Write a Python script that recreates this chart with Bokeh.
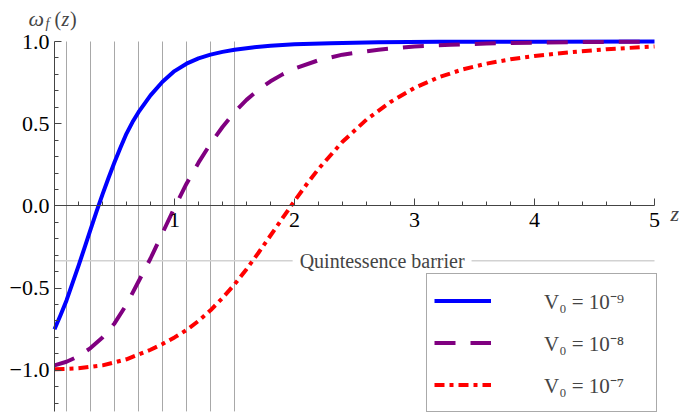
from bokeh.plotting import figure
from bokeh.models import (Range1d, FixedTicker, Label, Legend, LegendItem, LinearAxis)
from bokeh.embed import file_html
from bokeh.resources import INLINE

# ---- data ----
z_blue = [0, 0.05, 0.1, 0.15, 0.2, 0.25, 0.3, 0.35, 0.4, 0.45, 0.5, 0.55, 0.6, 0.65, 0.7,
          0.8, 0.9, 1.0, 1.1, 1.2, 1.3, 1.4, 1.5, 1.65, 1.8, 2.0, 2.3, 2.7, 3.2, 4.0, 5.0]
w_blue = [-0.75, -0.665, -0.575, -0.47, -0.365, -0.255, -0.145, -0.035, 0.07, 0.17,
          0.265, 0.355, 0.44, 0.51, 0.57, 0.672, 0.755, 0.82, 0.865, 0.897, 0.92, 0.937,
          0.95, 0.964, 0.974, 0.983, 0.990, 0.995, 0.998, 0.999, 1.0]

z_purple = [0, 0.1, 0.2, 0.3, 0.4, 0.5, 0.6, 0.7, 0.8, 0.9, 1.0, 1.1, 1.2, 1.3, 1.4, 1.5,
            1.6, 1.7, 1.8, 1.9, 2.0, 2.2, 2.4, 2.7, 3.0, 3.3, 3.6, 4.0, 4.5, 5.0]
w_purple = [-0.97, -0.948, -0.915, -0.865, -0.80, -0.715, -0.60, -0.46, -0.32, -0.165,
            -0.01, 0.135, 0.263, 0.378, 0.48, 0.57, 0.645, 0.707, 0.758, 0.80, 0.835,
            0.886, 0.92, 0.95, 0.97, 0.98, 0.988, 0.993, 0.997, 0.999]

z_red = [0, 0.2, 0.4, 0.6, 0.8, 0.9, 1.0, 1.1, 1.2, 1.3, 1.4, 1.5, 1.6, 1.7, 1.8, 1.9,
         2.0, 2.1, 2.2, 2.4, 2.6, 2.8, 3.0, 3.2, 3.4, 3.6, 3.8, 4.0, 4.3, 4.6, 5.0]
w_red = [-0.994, -0.988, -0.97, -0.933, -0.875, -0.84, -0.80, -0.755, -0.70, -0.635,
         -0.56, -0.478, -0.385, -0.285, -0.18, -0.075, 0.03, 0.13, 0.225, 0.39, 0.525,
         0.632, 0.718, 0.782, 0.83, 0.865, 0.892, 0.912, 0.935, 0.953, 0.97]

series_labels = ["V\u2080 = 10\u207b\u2079", "V\u2080 = 10\u207b\u2078", "V\u2080 = 10\u207b\u2077"]

X_MIN, X_MAX = 0.0, 5.0          # axis extent
Y_MIN, Y_MAX = -1.25, 1.0
x_ticks = [1, 2, 3, 4, 5]
x_minor = [0.2, 0.4, 0.6, 0.8, 1.2, 1.4, 1.6, 1.8, 2.2, 2.4, 2.6, 2.8, 3.2, 3.4, 3.6,
           3.8, 4.2, 4.4, 4.6, 4.8]
y_ticks = [-1.0, -0.5, 0.0, 0.5, 1.0]
y_tick_labels = ["\u22121.0", "\u22120.5", "0.0", "0.5", "1.0"]
y_minor = [-1.2, -1.1, -0.9, -0.8, -0.7, -0.6, -0.4, -0.3, -0.2, -0.1, 0.1, 0.2, 0.3,
           0.4, 0.6, 0.7, 0.8, 0.9]
grid_z = [0.1, 0.3, 0.5, 0.7, 0.9, 1.1, 1.3, 1.5]
barrier = -1.0 / 3.0

SERIF = "Liberation Serif"
AX = "#444444"

# frame fills the whole canvas; axes are drawn at the data origin
W, H = 682, 412
PX_X, PX_Y = 120.0, 164.4       # pixels per data unit
OX, OY = 54.0, 41.0             # canvas position of x=0 and of y=1.0
x_range = Range1d(-OX / PX_X, (W - OX) / PX_X)
y_range = Range1d(Y_MAX - (H - OY) / PX_Y, Y_MAX + OY / PX_Y)

p = figure(frame_width=W, frame_height=H, min_border=0,
           min_border_left=0, min_border_right=0, min_border_top=0, min_border_bottom=0,
           x_range=x_range, y_range=y_range,
           x_axis_type=None, y_axis_type=None,
           output_backend="svg", toolbar_location=None, title=None)
p.outline_line_color = None
p.background_fill_color = "white"
p.border_fill_color = "white"

# vertical grid lines and the quintessence barrier
p.segment(x0=grid_z, x1=grid_z, y0=[Y_MIN] * len(grid_z), y1=[Y_MAX] * len(grid_z),
          line_color="#a8a8a8", line_width=1)
p.segment(x0=[X_MIN], x1=[X_MAX], y0=[barrier], y1=[barrier],
          line_color="#d2d2d2", line_width=1.5)

xaxis = LinearAxis(fixed_location=0, bounds=(X_MIN, X_MAX),
                   ticker=FixedTicker(ticks=x_ticks, minor_ticks=x_minor),
                   axis_line_color=AX, major_tick_line_color=AX, minor_tick_line_color=AX,
                   major_tick_in=7, major_tick_out=0, minor_tick_in=4, minor_tick_out=0,
                   major_label_text_font=SERIF, major_label_text_font_size="22px",
                   major_label_text_color="black", major_label_standoff=7)
p.add_layout(xaxis, "below")

yaxis = LinearAxis(fixed_location=0, bounds=(Y_MIN, Y_MAX),
                   ticker=FixedTicker(ticks=y_ticks, minor_ticks=y_minor),
                   major_label_overrides={t: s for t, s in zip(y_ticks, y_tick_labels)},
                   axis_line_color=AX, major_tick_line_color=AX, minor_tick_line_color=AX,
                   major_tick_in=7, major_tick_out=0, minor_tick_in=4, minor_tick_out=0,
                   major_label_text_font=SERIF, major_label_text_font_size="22px",
                   major_label_text_color="black", major_label_standoff=5)
p.add_layout(yaxis, "left")

r1 = p.line(z_blue, w_blue, line_color="#0000ff", line_width=4, line_join="round")
r2 = p.line(z_purple, w_purple, line_color="#800080", line_width=4, line_dash="21 15")
r3 = p.line(z_red, w_red, line_color="#ff0000", line_width=4, line_dash="10 5 4 5")

p.add_layout(Label(x=2.73, y=barrier, text="Quintessence barrier", text_align="center",
                   text_baseline="middle", text_font=SERIF, text_font_size="20px",
                   background_fill_color="white", padding=7))

# axis titles
p.add_layout(Label(x=-0.217, y=1.137, text="\u03c9", text_font=SERIF,
                   text_font_style="italic", text_font_size="22px",
                   text_baseline="alphabetic"))
p.add_layout(Label(x=-0.075, y=1.11, text="f", text_font=SERIF,
                   text_font_style="italic", text_font_size="14px",
                   text_baseline="alphabetic"))
p.add_layout(Label(x=0.0, y=1.137, text="(", text_font=SERIF, text_font_size="20px",
                   text_baseline="alphabetic"))
p.add_layout(Label(x=0.058, y=1.137, text="z", text_font=SERIF, text_font_style="italic",
                   text_font_size="20px", text_baseline="alphabetic"))
p.add_layout(Label(x=0.13, y=1.137, text=")", text_font=SERIF, text_font_size="20px",
                   text_baseline="alphabetic"))
p.add_layout(Label(x=5.133, y=-0.046, text="z", text_font=SERIF, text_font_style="italic",
                   text_font_size="22px", text_baseline="alphabetic"))

legend = Legend(items=[LegendItem(label=series_labels[0], renderers=[r1]),
                       LegendItem(label=series_labels[1], renderers=[r2]),
                       LegendItem(label=series_labels[2], renderers=[r3])],
                location=(426, 0), margin=0, padding=7, spacing=3,
                glyph_width=57, glyph_height=39, label_height=39, label_width=105,
                label_standoff=53, label_text_font=SERIF, label_text_font_size="21px",
                border_line_color="#555555", border_line_width=1,
                background_fill_color="white", background_fill_alpha=1.0)
p.add_layout(legend, "center")

open("out.html", "w").write(file_html(p, INLINE))
